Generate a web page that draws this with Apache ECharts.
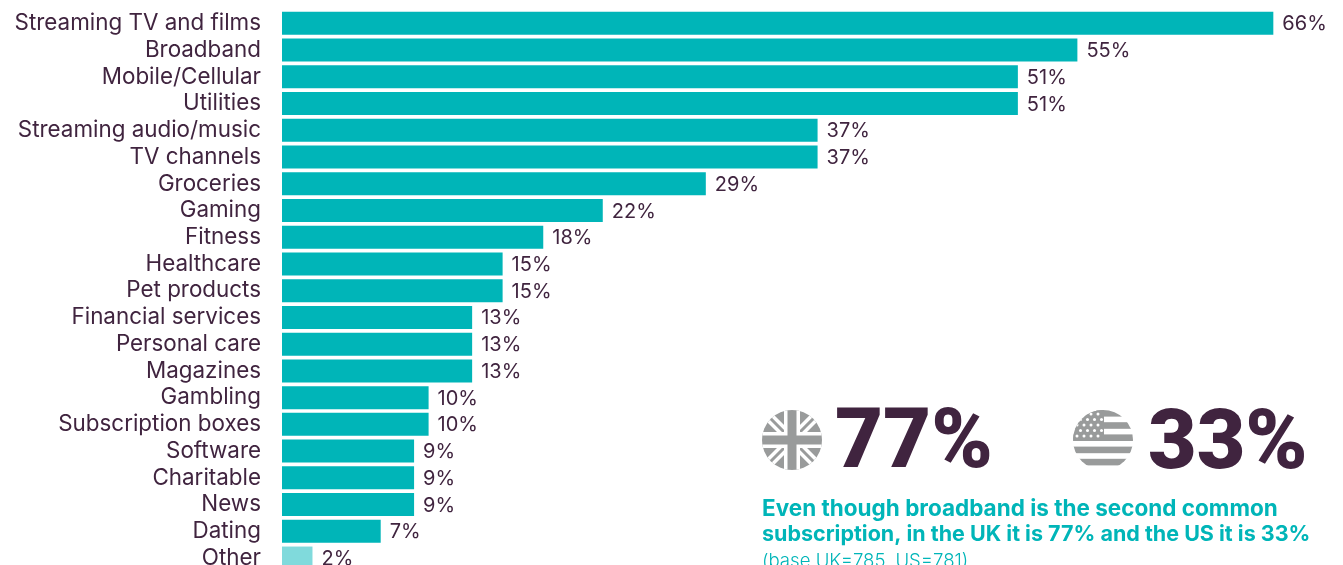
<!DOCTYPE html>
<html>
<head>
<meta charset="utf-8">
<title>Subscriptions</title>
<script src="https://cdn.jsdelivr.net/npm/echarts@6/dist/echarts.min.js"></script>
<style>
  html, body { margin: 0; padding: 0; background: #fff; overflow: hidden; }
  #chart { width: 1343px; height: 565px; }
</style>
</head>
<body>
<div id="chart"></div>
<script>
const categories = ['Streaming TV and films', 'Broadband', 'Mobile/Cellular', 'Utilities', 'Streaming audio/music', 'TV channels', 'Groceries', 'Gaming', 'Fitness', 'Healthcare', 'Pet products', 'Financial services', 'Personal care', 'Magazines', 'Gambling', 'Subscription boxes', 'Software', 'Charitable', 'News', 'Dating', 'Other']
// bar lengths as drawn in the picture (the top bar runs longer than its printed label)
const barLengths = [68.3, 54.8, 50.7, 50.7, 36.9, 36.9, 29.2, 22.1, 18, 15.2, 15.2, 13.1, 13.1, 13.1, 10.1, 10.1, 9.1, 9.1, 9.1, 6.8, 2.1]
// printed labels
const printedValues = [66, 55, 51, 51, 37, 37, 29, 22, 18, 15, 15, 13, 13, 13, 10, 10, 9, 9, 9, 7, 2]

const FONT = 'Inter'
const TEAL = '#00b5b8'
const DARK = '#40243f'
const GREY = '#999b9b'

const svgUri = body => 'data:image/svg+xml;charset=utf-8,' + encodeURIComponent(
  `<svg xmlns="http://www.w3.org/2000/svg" width="60" height="60" viewBox="0 0 60 60"><defs><clipPath id="c"><circle cx="30" cy="30" r="30"/></clipPath></defs><g clip-path="url(#c)">${body}</g></svg>`)

// grey union jack
const ukFlag = svgUri(`
  <rect width="60" height="60" fill="${GREY}"/>
  <path d="M0 0L60 60M60 0L0 60" stroke="#fff" stroke-width="10"/>
  <path d="M0 0L60 60M60 0L0 60" stroke="${GREY}" stroke-width="3"/>
  <rect x="22" width="16" height="60" fill="#fff"/><rect y="22" width="60" height="16" fill="#fff"/>
  <rect x="25.5" width="9" height="60" fill="${GREY}"/><rect y="25.5" width="60" height="9" fill="${GREY}"/>`)

// grey stars and stripes
const stripes = [0, 1, 2, 3, 4].map(i => `<rect y="${i * 12.2}" width="60" height="6.6" fill="${GREY}"/>`).join('')
const stars = []
for (let r = 0; r < 5; r++) {
  for (let c = 0; c < 4; c++) {
    stars.push(`<circle cx="${4 + c * 7 + (r % 2) * 3.5}" cy="${4 + r * 5.5}" r="1.5" fill="#fff"/>`)
  }
}
const usFlag = svgUri(`${stripes}<rect width="31" height="29.5" fill="${GREY}"/>${stars.join('')}`)

const chart = echarts.init(document.getElementById('chart'), null, { renderer: 'canvas' })

chart.setOption({
  animation: false,
  backgroundColor: '#fff',
  grid: { left: 282, top: 10, width: 1016, height: 561.4, outerBoundsMode: 'none' },
  xAxis: { type: 'value', min: 0, max: 70, show: false },
  yAxis: {
    type: 'category',
    inverse: true,
    data: categories,
    axisLine: { show: false },
    axisTick: { show: false },
    axisLabel: { color: DARK, fontFamily: FONT, fontSize: 22.4, margin: 21, interval: 0 }
  },
  series: [{
    type: 'bar',
    barWidth: 23,
    data: barLengths.map((v, i) => ({
      value: v,
      itemStyle: { color: categories[i] === 'Other' ? '#80dadc' : TEAL }
    })),
    label: {
      show: true,
      position: 'right',
      distance: 9,
      offset: [0, 1],
      color: DARK,
      fontFamily: FONT,
      fontSize: 20,
      formatter: p => printedValues[p.dataIndex] + '%'
    }
  }],
  graphic: [
    { type: 'image', left: 762, top: 410, style: { image: ukFlag, width: 60, height: 60 } },
    { type: 'image', left: 1073, top: 410, style: { image: usFlag, width: 60, height: 60 } },
    { type: 'text', left: 835, top: 405, style: { text: '77%', fill: DARK, font: `900 83px Roboto` } },
    { type: 'text', left: 1148, top: 405, style: { text: '33%', fill: DARK, font: `900 84px Roboto` } },
    { type: 'text', left: 762, top: 498, style: { text: 'Even though broadband is the second common', fill: TEAL, font: `700 22.5px ${FONT}` } },
    { type: 'text', left: 762, top: 524, style: { text: 'subscription, in the UK it is 77% and the US it is 33%', fill: TEAL, font: `700 21.5px ${FONT}` } },
    { type: 'text', left: 762, top: 552, style: { text: '(base UK=785, US=781)', fill: TEAL, font: `300 18.6px ${FONT}` } }
  ]
})
</script>
</body>
</html>
